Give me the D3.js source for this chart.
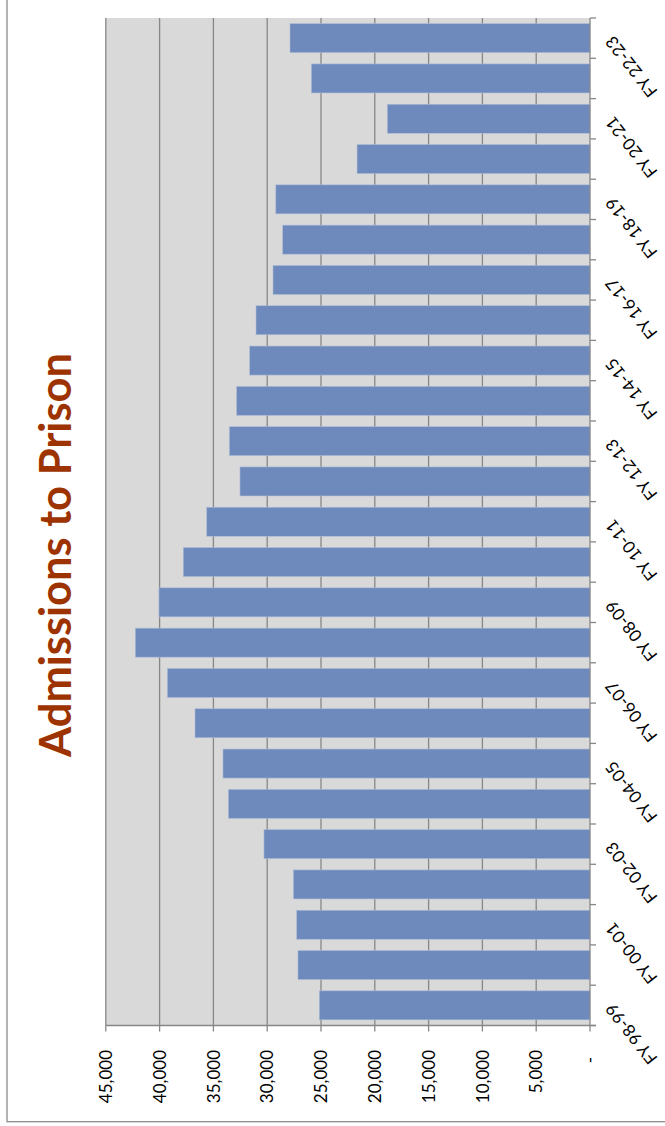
<!DOCTYPE html>
<html>
<head>
<meta charset="utf-8">
<script src="https://cdn.jsdelivr.net/npm/d3@7/dist/d3.min.js"></script>
<style>
  html, body { margin: 0; padding: 0; background: #ffffff; }
  svg { display: block; }
  text { font-family: Lato, "Open Sans", "DejaVu Sans", sans-serif; }
</style>
</head>
<body>
<svg id="chart" width="665" height="1126"></svg>
<script>
// ---- Data ----
const title = "Admissions to Prison";
const categories = [
  "FY 98-99","FY 99-00","FY 00-01","FY 01-02","FY 02-03","FY 03-04","FY 04-05",
  "FY 05-06","FY 06-07","FY 07-08","FY 08-09","FY 09-10","FY 10-11","FY 11-12",
  "FY 12-13","FY 13-14","FY 14-15","FY 15-16","FY 16-17","FY 17-18","FY 18-19",
  "FY 19-20","FY 20-21","FY 21-22","FY 22-23"
];
const admissions = [
  25160, 27140, 27260, 27570, 30300, 33610, 34110,
  36710, 39280, 42260, 40060, 37800, 35620, 32530,
  33520, 32840, 31630, 31040, 29460, 28560, 29200,
  21650, 18840, 25900, 27880
];
const valueTicks = [0, 5000, 10000, 15000, 20000, 25000, 30000, 35000, 40000, 45000];

// ---- Layout ----
const svg = d3.select("#chart");
const plot = { left: 105.8, right: 590, top: 18, bottom: 1025.5 };

const x = d3.scaleLinear().domain([0, 45000]).range([plot.right, plot.left]);
const y = d3.scaleBand().domain(categories).range([plot.bottom, plot.top])
  .paddingInner(0.28).paddingOuter(0.14);
const yStep = d3.scaleBand().domain(categories).range([plot.bottom, plot.top]);

// outer border
svg.append("rect")
  .attr("x", 7).attr("y", -3).attr("width", 680).attr("height", 1124.7)
  .attr("fill", "none").attr("stroke", "#8c8c8c").attr("stroke-width", 1.3);

// plot background
svg.append("rect")
  .attr("x", plot.left).attr("y", plot.top)
  .attr("width", plot.right - plot.left).attr("height", plot.bottom - plot.top)
  .attr("fill", "#d9d9d9");

// gridlines
svg.append("g").selectAll("line")
  .data(valueTicks.filter(d => d > 0))
  .join("line")
  .attr("x1", d => x(d)).attr("x2", d => x(d))
  .attr("y1", plot.top).attr("y2", plot.bottom)
  .attr("stroke", "#878787").attr("stroke-width", 1.3);

// bars
svg.append("g").selectAll("rect")
  .data(categories.map((c, i) => ({ c, v: admissions[i] })))
  .join("rect")
  .attr("x", d => x(d.v))
  .attr("y", d => y(d.c))
  .attr("width", d => x(0) - x(d.v))
  .attr("height", y.bandwidth())
  .attr("fill", "#6e89bc")
  .attr("stroke", "#aebcd6").attr("stroke-width", 0.6);

// value axis (bottom)
const vAxis = svg.append("g");
vAxis.append("line")
  .attr("x1", plot.left).attr("x2", plot.right + 6)
  .attr("y1", plot.bottom).attr("y2", plot.bottom)
  .attr("stroke", "#878787").attr("stroke-width", 1.3);
vAxis.selectAll("line.tick")
  .data(valueTicks)
  .join("line").attr("class", "tick")
  .attr("x1", d => x(d)).attr("x2", d => x(d))
  .attr("y1", plot.bottom).attr("y2", plot.bottom + 6)
  .attr("stroke", "#878787").attr("stroke-width", 1.3);
const fmt = d3.format(",");
vAxis.selectAll("text")
  .data(valueTicks)
  .join("text")
  .attr("transform", d => `translate(${x(d)},1050) rotate(-90)`)
  .attr("text-anchor", "end")
  .attr("dy", "0.36em")
  .attr("dx", d => d === 0 ? -7 : 0)
  .attr("font-size", 17)
  .attr("fill", "#000")
  .text(d => d === 0 ? "-" : fmt(d));

// category axis (right)
const cAxis = svg.append("g");
cAxis.append("line")
  .attr("x1", plot.right).attr("x2", plot.right)
  .attr("y1", plot.top).attr("y2", plot.bottom)
  .attr("stroke", "#878787").attr("stroke-width", 1.3);
const boundaries = categories.map(c => yStep(c)).concat([plot.top]);
cAxis.selectAll("line.tick")
  .data(boundaries)
  .join("line").attr("class", "tick")
  .attr("x1", plot.right).attr("x2", plot.right + 6)
  .attr("y1", (d, i) => i < categories.length ? d + yStep.bandwidth() : d)
  .attr("y2", (d, i) => i < categories.length ? d + yStep.bandwidth() : d)
  .attr("stroke", "#878787").attr("stroke-width", 1.3);
cAxis.selectAll("text")
  .data(categories.filter((c, i) => i % 2 === 0))
  .join("text")
  .attr("transform", c => `translate(609,${yStep(c) + yStep.bandwidth() / 2}) rotate(-128)`)
  .attr("text-anchor", "end")
  .attr("dy", "0.36em")
  .attr("font-size", 17)
  .attr("letter-spacing", 0.3)
  .attr("fill", "#000")
  .text(c => c);

// title
const t = svg.append("text")
  .attr("transform", "translate(71,555) rotate(-90)")
  .attr("text-anchor", "middle")
  .attr("font-weight", "bold")
  .attr("font-size", 44)
  .attr("fill", "#9c3300")
  .text(title);
const len = t.node().getComputedTextLength();
t.attr("font-size", 44 * 404 / len);
</script>
</body>
</html>
